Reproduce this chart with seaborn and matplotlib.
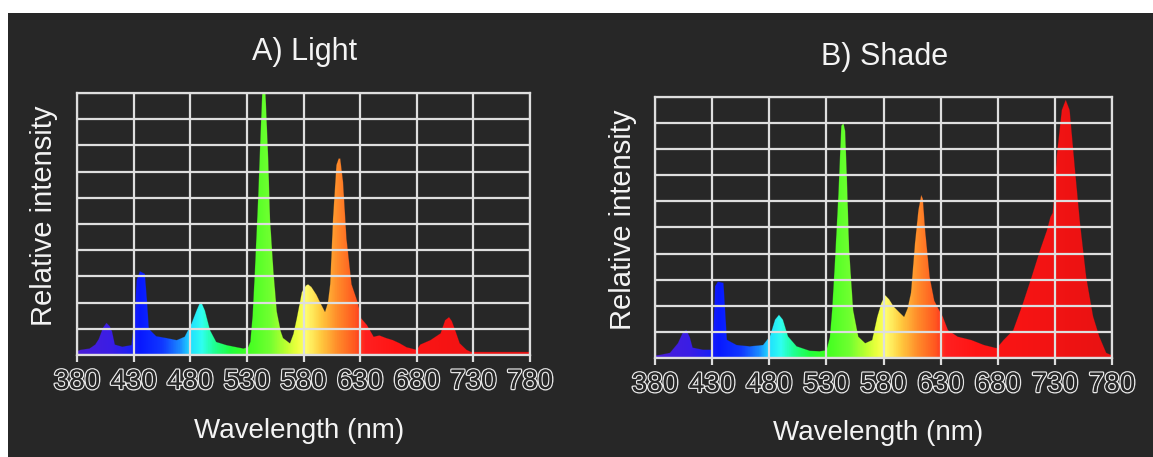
import numpy as np
import matplotlib
matplotlib.use("Agg")
import matplotlib.pyplot as plt
import matplotlib.patheffects as pe
from matplotlib.colors import LinearSegmentedColormap
from matplotlib.patches import Rectangle
import seaborn as sns

# Spectral readings (relative intensity, 0-10 grid units) at the sampled wavelengths
light_nm = [380, 383, 391, 396, 399, 403, 406, 409, 411, 413.5, 420, 428, 431, 432.5, 435.5,
            440, 442, 443.5, 450, 459, 468, 475, 481, 485.5, 488, 490, 493, 497.5, 503, 512,
            521, 527, 531, 533, 535, 537, 540, 542, 543.5, 546.5, 549, 550.5, 553.5, 556.5,
            560, 562, 568, 571, 574, 578.5, 582, 584, 587, 591.5, 596, 599, 601.5, 603.5, 606,
            609, 611, 612.5, 615, 618, 622.5, 628, 631, 636, 642, 647, 653, 659, 665, 671,
            680, 683, 692, 701, 705, 708.5, 711, 714, 718, 724, 728, 780]
light_val = [0.15, 0.2, 0.25, 0.4, 0.6, 1.05, 1.23, 1.1, 0.9, 0.4, 0.32, 0.38, 1.5, 2.85, 3.2,
             3.1, 2.0, 1.0, 0.72, 0.65, 0.57, 0.7, 1.2, 1.7, 1.95, 2.0, 1.7, 0.95, 0.5, 0.38,
             0.3, 0.25, 0.3, 0.5, 1.5, 3.2, 6.1, 8.4, 10.0, 10.0, 7.4, 5.2, 3.2, 1.65,
             0.9, 0.65, 0.45, 0.8, 1.4, 2.4, 2.65, 2.7, 2.6, 2.3, 1.9, 1.65, 2.0, 2.7, 5.2,
             7.25, 7.5, 7.5, 6.6, 4.45, 2.7, 2.0, 1.4, 1.15, 0.7, 0.75, 0.65, 0.57, 0.45, 0.3,
             0.2, 0.4, 0.57, 0.83, 1.33, 1.45, 1.3, 0.95, 0.45, 0.2, 0.12, 0.12]

shade_nm = [380, 384, 393, 400, 404.5, 407.5, 410.5, 413, 422, 430, 431.5, 432.5, 435, 440,
            441.5, 443, 451.5, 463, 474.5, 480.5, 485, 488.5, 492, 496.5, 504, 515.5, 524,
            530, 533, 535, 537.5, 540.5, 543, 545, 546.5, 548, 550, 553.5, 558, 564, 570,
            574.5, 578, 581.5, 585, 589, 594, 598, 601, 604, 607.5, 610.5, 613, 614.5, 616.5,
            620.5, 624.5, 628, 632, 636.5, 645, 657, 668, 679, 685, 693.5, 702, 709.5, 717,
            723, 726, 728, 730, 731.5, 736, 739.5, 743, 747.5, 752, 757.5, 763.5, 769, 775, 780]
shade_val = [0.1, 0.12, 0.2, 0.57, 1.0, 1.08, 0.8, 0.4, 0.32, 0.32, 1.5, 2.75, 2.93, 2.88,
             1.8, 0.7, 0.5, 0.45, 0.5, 0.83, 1.47, 1.66, 1.47, 0.83, 0.45, 0.28, 0.26,
             0.3, 0.8, 1.84, 3.75, 6.3, 8.9, 9.0, 8.7, 6.95, 4.14, 1.84, 0.82, 0.57, 0.69,
             1.58, 2.1, 2.41, 2.25, 1.97, 1.75, 1.58, 1.9, 2.5, 4.4, 5.67, 6.25, 6.1, 4.9,
             3.1, 2.2, 1.9, 1.58, 1.07, 0.82, 0.69, 0.5, 0.38, 0.69, 1.07, 2.1, 3.1, 4.14,
             4.9, 5.4, 5.56, 6.5, 7.7, 9.5, 9.9, 9.5, 7.3, 5.2, 3.1, 1.6, 0.82, 0.2, 0.1]

x_ticks = [380, 430, 480, 530, 580, 630, 680, 730, 780]
panel_titles = ["A) Light", "B) Shade"]

BG = "#272727"
GRID = "#dedede"
TXT = "#f4f4f4"

sns.set_theme(style="dark", rc={
    "axes.facecolor": BG,
    "figure.facecolor": "white",
    "axes.edgecolor": GRID,
})
plt.rcParams["font.family"] = ["Liberation Sans", "DejaVu Sans"]

# wavelength -> display colour ramp
stops = [(380, "#4a1ed8"), (410, "#3a1de6"), (425, "#2020f2"), (435, "#0818ff"),
         (455, "#1038ff"), (470, "#1a88ff"), (480, "#20e0ff"), (490, "#30fff0"),
         (500, "#20ff9a"), (515, "#20ff40"), (530, "#40ff20"), (550, "#70ff30"),
         (565, "#c0ff30"), (575, "#f0ff40"), (582, "#ffff70"), (595, "#ffcc40"),
         (610, "#ff8c2a"), (625, "#ff5a20"), (635, "#ff2020"), (660, "#ff1515"),
         (780, "#e81212")]
cmap = LinearSegmentedColormap.from_list(
    "spectrum", [((w - 380) / 400, c) for w, c in stops])

fig = plt.figure(figsize=(11.53, 4.57), dpi=100)
fig.patches.append(Rectangle((8 / 1153, 0), 1 - 8 / 1153, (457 - 13) / 457,
                             transform=fig.transFigure, facecolor=BG,
                             edgecolor="none", zorder=-1))

axes_boxes = [
    [77 / 1153, 102 / 457, 453 / 1153, 262 / 457],
    [655 / 1153, 99 / 457, 457 / 1153, 261 / 457],
]
series = [(light_nm, light_val), (shade_nm, shade_val)]
ylab_xy = [(-0.073, 0.53), (-0.069, 0.53)]
xlab_xy = [(0.49, -0.29), (0.488, -0.287)]
title_y = [1.156, 1.153]

tick_fx = [pe.withStroke(linewidth=2.0, foreground="#e6e6e6"), pe.Normal()]

for i, (box, (nm, val)) in enumerate(zip(axes_boxes, series)):
    ax = fig.add_axes(box)
    ax.set_facecolor(BG)
    nm_a = np.asarray(nm, dtype=float)
    val_a = np.asarray(val, dtype=float)

    poly = ax.fill_between(nm_a, 0, val_a, facecolor="none", edgecolor="none", zorder=1)
    grad = np.linspace(380, 780, 800).reshape(1, -1)
    im = ax.imshow(grad, extent=[380, 780, 0, 10.5], origin="lower", aspect="auto",
                   cmap=cmap, vmin=380, vmax=780, zorder=1, interpolation="bilinear")
    im.set_clip_path(poly.get_paths()[0], transform=ax.transData)
    sns.lineplot(x=nm_a, y=val_a, ax=ax, color=BG, lw=0.4, alpha=0.35, zorder=1.2)

    ax.set_xlim(380, 780)
    ax.set_ylim(0, 10)
    ax.set_xticks(x_ticks)
    ax.set_yticks(np.arange(0, 11, 1))
    ax.set_yticklabels([])
    ax.set_axisbelow(False)
    ax.grid(True, color=GRID, lw=1.6)
    for s in ax.spines.values():
        s.set_visible(True)
        s.set_color(GRID)
        s.set_linewidth(1.6)
    ax.tick_params(axis="x", bottom=True, length=5, width=1.6, color=GRID, pad=5,
                   labelsize=20, labelcolor=BG)
    ax.tick_params(axis="y", left=False, length=0)
    for lab in ax.get_xticklabels():
        lab.set_fontfamily(["Liberation Sans", "DejaVu Sans"])
        lab.set_path_effects(tick_fx)

    ax.set_xlabel("Wavelength (nm)", fontsize=20, color=TXT)
    ax.xaxis.set_label_coords(*xlab_xy[i])
    ax.xaxis.label.set_verticalalignment("center")
    ax.set_ylabel("Relative intensity", fontsize=21, color=TXT)
    ax.yaxis.set_label_coords(*ylab_xy[i])
    ax.yaxis.label.set_verticalalignment("center")
    ax.set_title(panel_titles[i], fontsize=22, color=TXT, y=title_y[i], va="center",
                 x=0.503, pad=0)

fig.savefig("out.png", dpi=100, facecolor="white")
